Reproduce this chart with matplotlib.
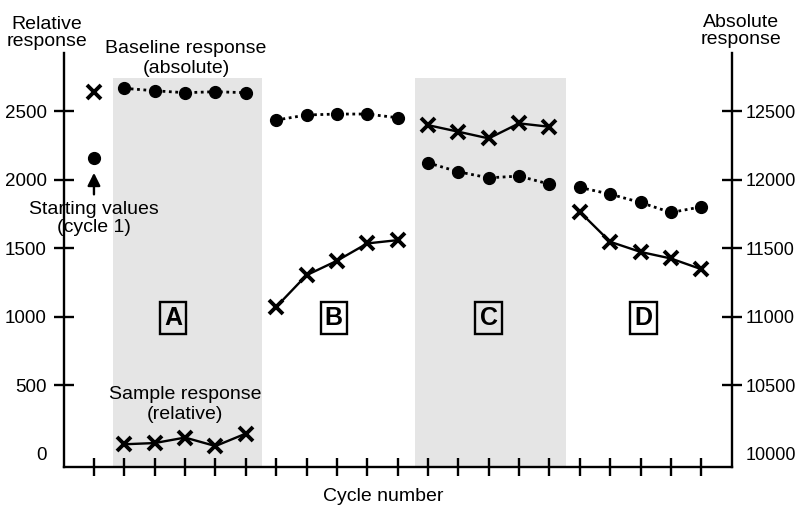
import matplotlib
matplotlib.use("Agg")
import matplotlib.pyplot as plt

plt.rcParams['font.family'] = ['Liberation Sans', 'DejaVu Sans']

# ---- data ----
start_cycle = 1
rel_start = 2644
abs_start = 12157
group_names = ["A", "B", "C", "D"]
group_cycles = [[2, 3, 4, 5, 6], [7, 8, 9, 10, 11], [12, 13, 14, 15, 16], [17, 18, 19, 20, 21]]
rel_values = [
    [69, 78, 118, 56, 147],
    [1072, 1304, 1409, 1536, 1560],
    [2400, 2352, 2303, 2413, 2388],
    [1767, 1548, 1474, 1426, 1348],
]
abs_values = [
    [12669, 12651, 12637, 12644, 12637],
    [12437, 12474, 12481, 12481, 12454],
    [12125, 12059, 12015, 12028, 11969],
    [11945, 11896, 11835, 11762, 11803],
]
shaded_spans = [(1.63, 6.53), (11.58, 16.55)]
shade_top = 2745
label_x = [3.6, 8.9, 14.0, 19.1]
label_y = 993
left_ticks = [0, 500, 1000, 1500, 2000, 2500]
right_ticks = [10000, 10500, 11000, 11500, 12000, 12500]
x_ticks = list(range(1, 22))

ylo, yhi = -97, 2927
offset = 10000

fig = plt.figure(figsize=(8, 5.08), dpi=100)
ax = fig.add_axes([0.0795, 0.0807, 0.835, 0.815])
ax2 = ax.twinx()

ax.set_xlim(0, 22)
ax.set_ylim(ylo, yhi)
ax2.set_ylim(ylo + offset, yhi + offset)

for x0, x1 in shaded_spans:
    ax.fill_between([x0, x1], [ylo, ylo], [shade_top, shade_top], color='#e5e5e5', lw=0, zorder=0)

# relative (crosses, solid)
for cyc, vals in zip(group_cycles, rel_values):
    ax.plot(cyc, vals, color='black', lw=1.7, marker='x', markersize=9.5,
            markeredgewidth=2.8, zorder=3)
ax.plot([start_cycle], [rel_start], color='black', marker='x', markersize=9.5,
        markeredgewidth=2.8, ls='none', zorder=3)

# absolute (dots, dotted)
for cyc, vals in zip(group_cycles, abs_values):
    ax2.plot(cyc, vals, color='black', lw=2, ls=(0, (1, 1.3)), marker='o', markersize=8.5, zorder=3)
ax2.plot([start_cycle], [abs_start], color='black', marker='o', markersize=8.5, ls='none', zorder=3)

# axes styling
for s in ['top', 'right']:
    ax.spines[s].set_visible(False)
for s in ['top', 'left', 'bottom']:
    ax2.spines[s].set_visible(False)
ax.spines['left'].set_linewidth(1.7)
ax.spines['bottom'].set_linewidth(1.7)
ax2.spines['right'].set_linewidth(1.7)

ax.set_xticks(x_ticks)
ax.set_xticklabels([])
ax.tick_params(axis='x', direction='inout', length=13, width=1.7)
ax.set_yticks(left_ticks)
ax.tick_params(axis='y', direction='inout', length=14, width=1.7, labelsize=13.5, pad=5)
ax2.set_yticks(right_ticks)
ax2.tick_params(axis='y', direction='inout', length=14, width=1.7, labelsize=13, pad=3)
t0 = ax.yaxis.get_major_ticks()[0]
t0.tick1line.set_visible(False)
t0.tick2line.set_visible(False)
t0b = ax2.yaxis.get_major_ticks()[0]
t0b.tick1line.set_visible(False)
t0b.tick2line.set_visible(False)

# group labels
for name, lx in zip(group_names, label_x):
    ax.text(lx, label_y, name, ha='center', va='center', fontsize=18, fontweight='bold', zorder=4,
            bbox=dict(boxstyle='square,pad=0.17', fc='none', ec='black', lw=1.7))

# annotations
fs = 14
ax.text(4.03, 2887, "Baseline response\n(absolute)", ha='center', va='center', fontsize=fs)
ax.text(4.0, 361, "Sample response\n(relative)", ha='center', va='center', fontsize=fs)
ax.text(1.0, 1720, "Starting values\n(cycle 1)", ha='center', va='center', fontsize=fs, linespacing=1.05)
ax.annotate('', xy=(1.0, 2072), xytext=(1.0, 1874),
            arrowprops=dict(arrowstyle='-|>', lw=1.7, color='black', mutation_scale=19))

fig.text(0.059, 0.935, "Relative\nresponse", ha='center', va='center', fontsize=fs, linespacing=1.0)
fig.text(0.926, 0.938, "Absolute\nresponse", ha='center', va='center', fontsize=fs, linespacing=1.0)
fig.text(383 / 800, 0.022, "Cycle number", ha='center', va='center', fontsize=fs)

fig.savefig("out.png", dpi=100)
